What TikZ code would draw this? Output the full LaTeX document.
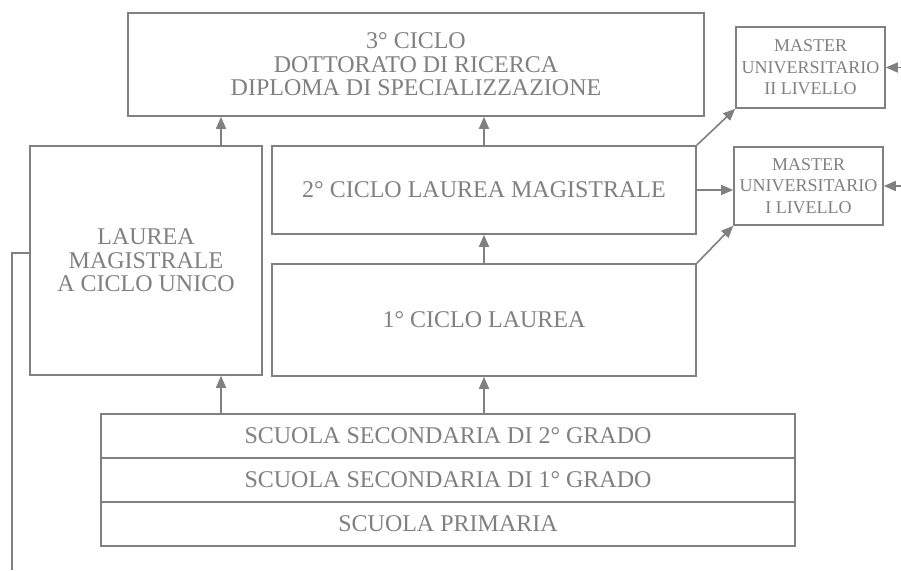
\documentclass[tikz,border=0pt]{standalone}
\usepackage{fontspec}
\setmainfont{Liberation Serif}
\usetikzlibrary{arrows.meta}
\definecolor{lg}{HTML}{808080}
\begin{document}
\begin{tikzpicture}[x=1pt,y=-1pt,
  box/.style={draw=lg,line width=1.6pt,rectangle,inner sep=0pt,text=lg,align=center,
    font=\fontsize{24}{23.5}\selectfont},
  mbox/.style={box,font=\fontsize{18}{21.5}\selectfont},
  arr/.style={draw=lg,line width=1.6pt,-{Triangle[length=12pt,width=10pt]}},
  ln/.style={draw=lg,line width=1.6pt}]
\useasboundingbox (0,0) rectangle (901,570);
\node[box,minimum width=576pt,minimum height=103pt] (top) at (416,64.5)
  {3° CICLO\\DOTTORATO DI RICERCA\\DIPLOMA DI SPECIALIZZAZIONE};
\node[mbox,minimum width=149pt,minimum height=81pt] (m2) at (810.5,67.5)
  {MASTER\\UNIVERSITARIO\\II LIVELLO};
\node[mbox,minimum width=149pt,minimum height=78pt] (m1) at (808.5,186)
  {MASTER\\UNIVERSITARIO\\I LIVELLO};
\node[box,minimum width=424pt,minimum height=88pt] (c2) at (484,190)
  {2° CICLO LAUREA MAGISTRALE};
\node[box,minimum width=232pt,minimum height=229pt] (lm) at (146,260.5)
  {LAUREA\\MAGISTRALE\\A CICLO UNICO};
\node[box,minimum width=424pt,minimum height=112pt] (c1) at (484,320)
  {1° CICLO LAUREA};
\node[box,minimum width=694pt,minimum height=44pt] (s2) at (448,436)
  {SCUOLA SECONDARIA DI 2° GRADO};
\node[box,minimum width=694pt,minimum height=44pt] (s1) at (448,480)
  {SCUOLA SECONDARIA DI 1° GRADO};
\node[box,minimum width=694pt,minimum height=44pt] (sp) at (448,524)
  {SCUOLA PRIMARIA};
\coordinate (xl) at (221,0);
\coordinate (r2) at (901,67.5);
\coordinate (r1) at (901,186);
\coordinate (lj) at (12,253);
\coordinate (lb) at (12,570);
% arrows
\draw[arr] (lm.north -| xl) -- (top.south -| xl);
\draw[arr] (c2.north) -- (top.south -| c2.north);
\draw[arr] (c1.north) -- (c2.south);
\draw[arr] (s2.north -| xl) -- (lm.south -| xl);
\draw[arr] (s2.north -| c1.south) -- (c1.south);
\draw[arr] (c2.north east) -- (m2.south west);
\draw[arr] (c2.east) -- (c2.east -| m1.west);
\draw[arr] (c1.north east) -- (m1.south west);
\draw[arr] (r2) -- (m2.east);
\draw[arr] (r1) -- (m1.east);
\draw[ln] (lm.west |- lj) -- (lj) -- (lb);
\end{tikzpicture}
\end{document}
